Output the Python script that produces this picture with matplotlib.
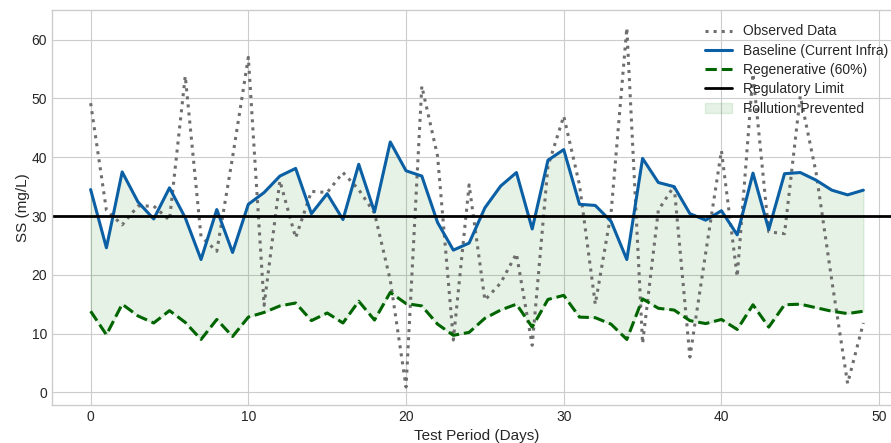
"""Suspended solids over the test period: observed vs baseline vs regenerative."""

import matplotlib

matplotlib.use("Agg")
import matplotlib.pyplot as plt
import numpy as np

days = np.arange(50)

observed = [
    49.2, 31.0, 28.5, 31.7, 31.7, 29.3, 53.8, 26.5, 24.0, 40.0,
    57.0, 14.8, 36.0, 26.3, 34.2, 34.0, 37.4, 34.5, 30.5, 19.1,
    0.9, 52.1, 40.2, 8.9, 35.3, 15.7, 18.6, 23.6, 8.0, 38.5,
    47.0, 35.3, 15.0, 30.5, 62.0, 8.3, 31.0, 35.1, 6.0, 23.7,
    41.1, 19.7, 54.2, 27.3, 27.0, 50.4, 37.4, 19.0, 1.5, 11.8,
]
baseline = [
    34.5, 24.6, 37.5, 32.4, 29.5, 34.8, 29.7, 22.6, 31.1, 23.8,
    32.0, 34.0, 36.8, 38.1, 30.4, 33.8, 29.4, 38.8, 30.7, 42.6,
    37.7, 36.8, 28.9, 24.2, 25.4, 31.4, 35.1, 37.4, 27.8, 39.5,
    41.3, 32.0, 31.8, 29.1, 22.6, 39.8, 35.7, 35.0, 30.4, 29.3,
    30.9, 26.8, 37.3, 27.7, 37.2, 37.4, 36.1, 34.4, 33.6, 34.4,
]
regenerative = [
    13.8, 9.8, 15.0, 13.0, 11.8, 13.9, 11.9, 9.0, 12.4, 9.5,
    12.8, 13.6, 14.7, 15.2, 12.2, 13.5, 11.8, 15.5, 12.3, 17.0,
    15.1, 14.7, 11.6, 9.7, 10.2, 12.6, 14.0, 15.0, 11.1, 15.8,
    16.5, 12.8, 12.7, 11.6, 9.0, 15.9, 14.3, 14.0, 12.2, 11.7,
    12.4, 10.7, 14.9, 11.1, 14.9, 15.0, 14.4, 13.8, 13.4, 13.8,
]
regulatory_limit = 30

plt.style.use("seaborn-v0_8-whitegrid")

fig = plt.figure(figsize=(8.91, 4.43), dpi=100)
# axes runs a little past the right edge, as in the cropped original
ax = fig.add_axes([52 / 891, 38 / 443, 850 / 891, 395 / 443])

ax.plot(days, observed, color="#6e6e6e", linestyle=":", linewidth=2.2, label="Observed Data")
ax.plot(days, baseline, color="#0b5fa5", linewidth=2.2, label="Baseline (Current Infra)")
ax.plot(days, regenerative, color="#006400", linestyle="--", linewidth=2.2,
        label="Regenerative (60%)")
ax.axhline(regulatory_limit, color="black", linewidth=2, label="Regulatory Limit")
ax.fill_between(days, regenerative, baseline, color="green", alpha=0.1,
                label="Pollution Prevented")

ax.set_xlabel("Test Period (Days)", fontsize=11)
ax.set_ylabel("SS (mg/L)", fontsize=11, labelpad=1)
ax.tick_params(labelsize=10)
for spine in ax.spines.values():
    spine.set_visible(True)
    spine.set_color("#cccccc")

ax.legend(loc="upper right", fontsize=10, frameon=False, labelspacing=0.38,
          bbox_to_anchor=(0.999, 0.995), borderaxespad=0.5)

fig.savefig("out.png", dpi=100)
